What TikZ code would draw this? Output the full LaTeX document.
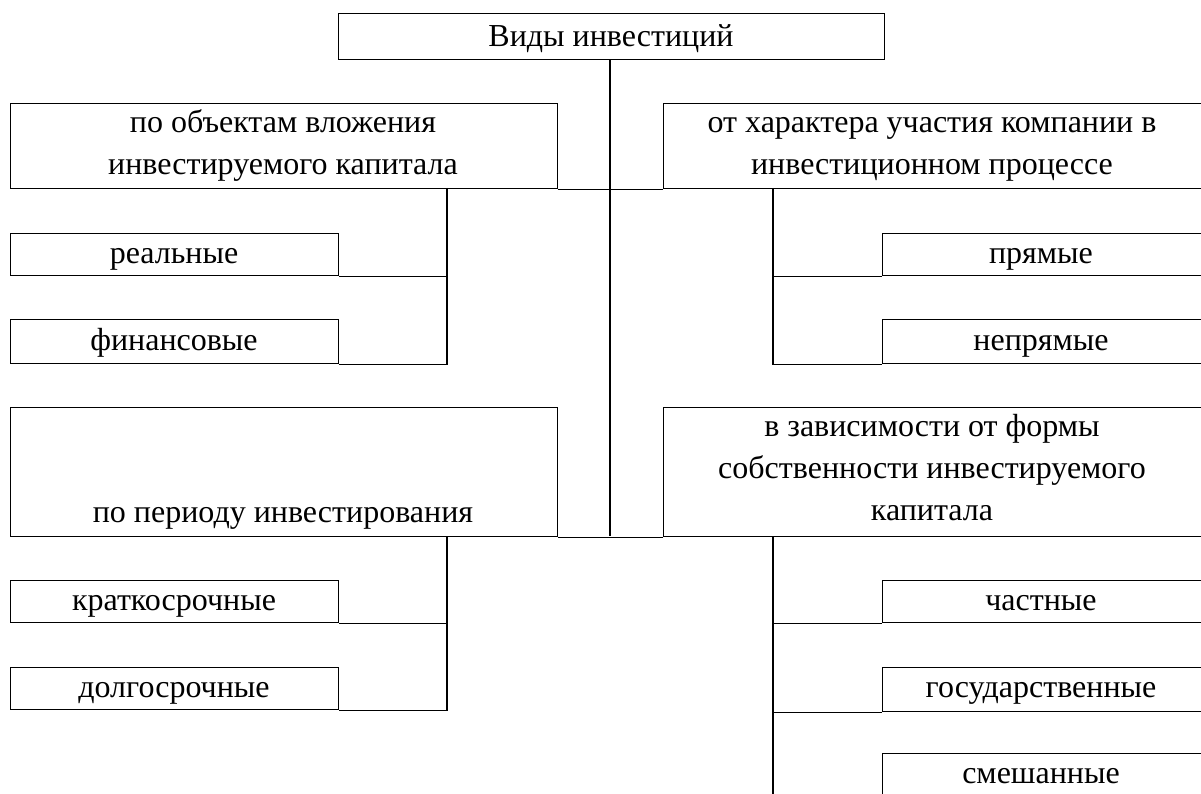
\documentclass[tikz,border=0pt]{standalone}
\usepackage{fontspec}
\setmainfont{Liberation Serif}
\begin{document}
\begin{tikzpicture}[x=1pt,y=1pt,
  box/.style={draw,line width=1.4pt,inner sep=0pt,anchor=north west},
  txt/.style={inner sep=0pt,anchor=base,align=center,font=\fontsize{32}{42}\selectfont},
  conn/.style={line width=1.4pt}]
\useasboundingbox (0,0) rectangle (1201,-794);
\clip (0,0) rectangle (1201,-794);
% boxes
\node[box,minimum width=546pt,minimum height=46pt] (top) at (338,-13) {};
\node[box,minimum width=547pt,minimum height=85pt] (A) at (10,-103) {};
\node[box,minimum width=560pt,minimum height=85pt] (B) at (663,-103) {};
\node[box,minimum width=328pt,minimum height=42pt] (real) at (10,-233) {};
\node[box,minimum width=328pt,minimum height=44pt] (fin) at (10,-319) {};
\node[box,minimum width=340pt,minimum height=42pt] (pr) at (882,-233) {};
\node[box,minimum width=340pt,minimum height=44pt] (npr) at (882,-319) {};
\node[box,minimum width=547pt,minimum height=129pt] (C) at (10,-407) {};
\node[box,minimum width=560pt,minimum height=129pt] (D) at (663,-407) {};
\node[box,minimum width=328pt,minimum height=42pt] (kr) at (10,-580) {};
\node[box,minimum width=328pt,minimum height=42pt] (dl) at (10,-667) {};
\node[box,minimum width=340pt,minimum height=42pt] (ch) at (882,-580) {};
\node[box,minimum width=340pt,minimum height=44pt] (gs) at (882,-667) {};
\node[box,minimum width=340pt,minimum height=60pt] (sm) at (882,-753) {};
% texts (base anchor = baseline of the last line)
\node[txt] (ttop) at (611,-47) {Виды инвестиций};
\node[txt] (tA) at (283,-175) {по объектам вложения\\инвестируемого капитала};
\node[txt] (tB) at (932,-175) {от характера участия компании в\\инвестиционном процессе};
\node[txt] (treal) at (174,-263) {реальные};
\node[txt] (tfin) at (174,-350) {финансовые};
\node[txt] (tpr) at (1041,-263) {прямые};
\node[txt] (tnpr) at (1041,-350) {непрямые};
\node[txt] (tC) at (283,-522) {по периоду инвестирования};
\node[txt] (tD) at (932,-520) {в зависимости от формы\\собственности инвестируемого\\капитала};
\node[txt] (tkr) at (174,-610) {краткосрочные};
\node[txt] (tdl) at (174,-697) {долгосрочные};
\node[txt] (tch) at (1041,-610) {частные};
\node[txt] (tgs) at (1041,-697) {государственные};
\node[txt] (tsm) at (1041,-783) {смешанные};
% connectors
\coordinate (cb) at (610,-536);
\coordinate (lb1) at (447,-188);
\coordinate (rb1) at (773,-188);
\coordinate (lb2) at (447,-536);
\coordinate (rb2) at (773,-536);
\coordinate (rend) at (773,-800);
\draw[conn] (top.south -| cb) -- (cb);
\draw[conn] (A.south east) -- (B.south west);
\draw[conn] (C.south east) -- (D.south west);
\draw[conn] (lb1) |- (fin.south east);
\draw[conn] (lb1 |- real.south east) -- (real.south east);
\draw[conn] (rb1) |- (npr.south west);
\draw[conn] (rb1 |- pr.south west) -- (pr.south west);
\draw[conn] (lb2) |- (dl.south east);
\draw[conn] (lb2 |- kr.south east) -- (kr.south east);
\draw[conn] (rb2) -- (rend);
\draw[conn] (rb2 |- ch.south west) -- (ch.south west);
\draw[conn] (rb2 |- gs.south west) -- (gs.south west);
\end{tikzpicture}
\end{document}
